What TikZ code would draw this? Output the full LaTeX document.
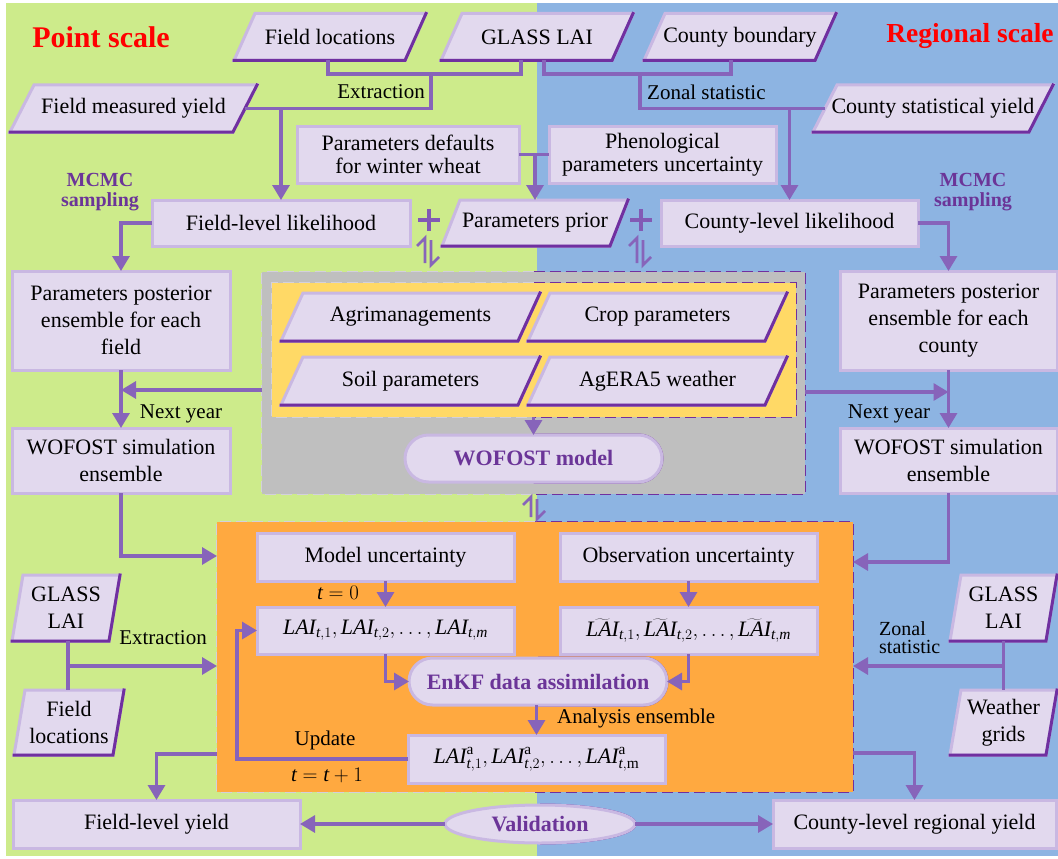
\documentclass[tikz,border=0pt]{standalone}
\usepackage{fontspec}
\setmainfont{Liberation Serif}
\usetikzlibrary{arrows.meta,shapes.geometric}
\definecolor{bggreen}{HTML}{CDEB8B}
\definecolor{bgblue}{HTML}{8DB4E2}
\definecolor{greybox}{HTML}{BFBFBF}
\definecolor{yelbox}{HTML}{FFD966}
\definecolor{orabox}{HTML}{FFA940}
\definecolor{boxfill}{HTML}{E2D9EE}
\definecolor{boxlight}{HTML}{C9B8E2}
\definecolor{boxdark}{HTML}{7030A0}
\definecolor{conncol}{HTML}{8764BA}
\definecolor{ptext}{HTML}{6B3598}
\definecolor{dashlight}{HTML}{D3D0DC}
\newcommand\ti{\mathit{t}}
\newcommand\pgram[7]{%
  \path[fill=boxfill, draw=boxlight, line width=3pt]
    ({#2-#4/2},{#3+#5/2}) -- ({#2+#4/2-#6},{#3+#5/2}) -- ({#2+#4/2},{#3-#5/2}) -- ({#2-#4/2+#6},{#3-#5/2}) -- cycle;
  \draw[boxdark, line width=3pt, line cap=rect] ({#2+#4/2},{#3-#5/2}) -- ({#2+#4/2-#6},{#3+#5/2}) -- ({#2-#4/2},{#3+#5/2});
  \node[base, minimum width={(#4-#6)*1pt}, minimum height={#5*1pt}] (#1) at (#2,#3) {#7};
}
\newcommand\harp[3]{%
  \draw[conncol, line width=2.8pt] (#1,{#2+#3-2}) -- (#1,#2) -- ({#1-8},{#2+8});
  \draw[conncol, line width=2.8pt] ({#1+6},{#2+2}) -- ({#1+6},{#2+#3}) -- ({#1+14},{#2+#3-8});
}
\newcommand\plussign[2]{%
  \draw[conncol!80!boxdark, line width=3.4pt] ({#1-11},#2) -- ({#1+11},#2) ({#1},{#2-11}) -- ({#1},{#2+11});
}
\begin{document}
\begin{tikzpicture}[x=1pt,y=-1pt,
  base/.style={font=\fontsize{22}{27}\selectfont, align=center, inner sep=0pt, outer sep=0pt, text=black},
  box/.style={base, rectangle, fill=boxfill, draw=boxlight, line width=3pt,
    append after command={\pgfextra{\draw[boxdark, line width=3pt, line cap=rect] (\tikzlastnode.north east) -- (\tikzlastnode.south east) -- (\tikzlastnode.south west);}}},
  pill/.style={base, rectangle, rounded corners=23.5pt, fill=boxfill, draw=boxlight, line width=3pt,
    font=\fontsize{22}{27}\selectfont\bfseries, text=ptext,
    append after command={\pgfextra{\draw[boxdark, line width=3pt] (\tikzlastnode.north) -- ([xshift=-23.5pt]\tikzlastnode.north east) arc[start angle=90, end angle=-90, radius=23.5pt] -- (\tikzlastnode.south);}}},
  val/.style={base, ellipse, fill=boxfill, draw=boxlight, line width=3pt,
    font=\fontsize{22}{27}\selectfont\bfseries, text=ptext,
    append after command={\pgfextra{\draw[boxdark, line width=3pt] (\tikzlastnode.north) arc[start angle=90, end angle=-90, x radius=95pt, y radius=19pt];}}},
  grpdash/.style={line width=2.2pt, dash pattern=on 11pt off 5pt},
  grp/.style={rectangle, inner sep=0pt, outer sep=0pt,
    append after command={\pgfextra{%
      \draw[dashlight, grpdash] (\tikzlastnode.north) -- (\tikzlastnode.north west) -- (\tikzlastnode.south west) -- (\tikzlastnode.south);
      \draw[boxdark, grpdash] (\tikzlastnode.north) -- (\tikzlastnode.north east) -- (\tikzlastnode.south east) -- (\tikzlastnode.south);}}},
  lab/.style={font=\fontsize{21}{24}\selectfont, inner sep=0pt, text=black},
  mcmc/.style={font=\fontsize{20}{20}\selectfont\bfseries, text=ptext, align=center, inner sep=0pt},
  title/.style={font=\fontsize{30}{31}\selectfont\bfseries, text=red, inner sep=0pt},
  conn/.style={draw=conncol, line width=3.2pt},
  arr/.style={conn, -{Triangle[length=15pt,width=17pt]}}
]
\useasboundingbox (0,0) rectangle (1058,859);
% backgrounds
\fill[bggreen] (6,3) rectangle (537,856);
\fill[bgblue] (537,3) rectangle (1058,856);

% group boxes
\node[grp, fill=greybox, minimum width=543pt, minimum height=222pt] (grey) at (533.5,383) {};
\node[grp, fill=yelbox, minimum width=524pt, minimum height=134pt] (yellow) at (534,350) {};
\node[grp, fill=orabox, minimum width=636pt, minimum height=270pt] (orange) at (535,657) {};

% titles
\node[title] (tps) at (101,37) {Point scale};
\node[title, font=\fontsize{27.5}{30}\selectfont\bfseries] (trs) at (970,36) {Regional scale};

% top parallelograms
\pgram{fl1}{330}{37}{192}{47}{21}{Field locations}
\pgram{glai}{537}{37}{192}{47}{21}{GLASS LAI}
\pgram{cb}{740}{37}{192}{47}{21}{County boundary}
\pgram{fmy}{133.5}{108.5}{247}{47}{24}{Field measured yield}
\pgram{csy}{933}{108.5}{240}{47}{24}{County statistical yield}
\pgram{pprior}{535}{223}{186}{46}{18}{Parameters prior}

% inputs
\pgram{agri}{410.5}{317}{259}{48}{22}{Agrimanagements}
\pgram{crop}{657.5}{317}{259}{48}{22}{Crop parameters}
\pgram{soil}{410.5}{381}{259}{48}{22}{Soil parameters}
\pgram{agera}{657.5}{381}{259}{48}{22}{AgERA5 weather}

% side parallelograms
\pgram{glai2}{66}{608}{108}{66}{11}{GLASS\\LAI}
\pgram{flocs2}{69}{722.5}{110}{65}{11}{Field\\locations}
\pgram{glai3}{1003.5}{608}{107}{66}{11}{GLASS\\LAI}
\pgram{wgrid}{1003.5}{722.5}{107}{65}{11}{Weather\\grids}

% rectangles
\node[box, minimum width=222pt, minimum height=57pt, font=\fontsize{22}{23}\selectfont] (pdef) at (408,154.5) {Parameters defaults\\for winter wheat};
\node[box, minimum width=227pt, minimum height=57pt, font=\fontsize{22}{23}\selectfont] (phen) at (662.5,154.5) {Phenological\\parameters uncertainty};
\node[box, minimum width=258pt, minimum height=46pt] (fll) at (281,223) {Field-level likelihood};
\node[box, minimum width=257pt, minimum height=46pt] (cll) at (789.5,223) {County-level likelihood};
\node[box, minimum width=218pt, minimum height=99pt] (ppf) at (121,320.5) {Parameters posterior\\ensemble for each\\field};
\node[box, minimum width=217pt, minimum height=99pt] (ppc) at (948.5,320.5) {Parameters posterior\\ensemble for each\\county};
\node[box, minimum width=218pt, minimum height=65pt] (wsf) at (121,460.5) {WOFOST simulation\\ensemble};
\node[box, minimum width=217pt, minimum height=65pt] (wsc) at (948.5,460.5) {WOFOST simulation\\ensemble};
\node[box, minimum width=257pt, minimum height=48pt] (mu) at (385.5,557) {Model uncertainty};
\node[box, minimum width=257pt, minimum height=48pt] (ou) at (688.5,557) {Observation uncertainty};
\node[box, minimum width=257pt, minimum height=47pt] (lai) at (385.5,630.5) {$\mathit{LAI}_{\ti,1},\mathit{LAI}_{\ti,2},\ldots,\mathit{LAI}_{\ti,\mathit{m}}$};
\node[box, minimum width=257pt, minimum height=47pt] (lait) at (688.5,630.5) {$\widetilde{\mathit{LAI}}_{\ti,1},\widetilde{\mathit{LAI}}_{\ti,2},\ldots,\widetilde{\mathit{LAI}}_{\ti,\mathit{m}}$};
\node[box, minimum width=257pt, minimum height=48pt] (laia) at (536.5,759) {$\mathit{LAI}^{\mathrm{a}}_{\ti,1},\mathit{LAI}^{\mathrm{a}}_{\ti,2},\ldots,\mathit{LAI}^{\mathrm{a}}_{\ti,\mathrm{m}}$};
\node[box, minimum width=287pt, minimum height=48pt] (fly) at (156.5,824) {Field-level yield};
\node[box, minimum width=283pt, minimum height=48pt] (cry) at (914.5,824) {County-level regional yield};

% pills and ellipse
\node[pill, minimum width=257pt, minimum height=47pt] (wofost) at (533.5,458.5) {WOFOST model};
\node[pill, minimum width=258pt, minimum height=47pt] (enkf) at (538,681.5) {EnKF data assimilation};
\node[val, minimum width=190pt, minimum height=38pt] (valid) at (540,824) {Validation};

% labels
\node[lab, anchor=east] (lext1) at (425,92) {Extraction};
\node[lab, anchor=west] (lzs1) at (647,92) {Zonal statistic};
\node[mcmc] (mcl) at (100,192) {MCMC\\sampling};
\node[mcmc] (mcr) at (973,192) {MCMC\\sampling};
\node[lab] (lny1) at (181,414) {Next year};
\node[lab] (lny2) at (889,414) {Next year};
\node[lab] (lt0) at (338,593) {$\ti=0$};
\node[lab, anchor=west] (lan) at (557,718) {Analysis ensemble};
\node[lab] (lupd) at (325,740) {Update};
\node[lab] (ltt) at (327,775) {$\ti=\ti+1$};
\node[lab] (lext2) at (163,638) {Extraction};
\node[lab, align=left, anchor=west, font=\fontsize{20}{18}\selectfont] (lzs2) at (879,638) {Zonal\\statistic};

% junction coordinates
\coordinate (jex) at (431,74);
\coordinate (jzs) at (640,74);
\coordinate (jl) at (68,666);
\coordinate (jr) at (1003.5,666);

% connectors top
\draw[conn] ([xshift=-2pt]fl1.south) |- (jex) -| ([xshift=-16pt]glai.south);
\draw[conn] (jex) |- (fmy.east);
\draw[arr] (fll.north |- fmy.east) -- (fll.north);
\draw[conn] ([xshift=7pt]glai.south) |- (jzs) -| ([xshift=-9pt]cb.south);
\draw[conn] (jzs) |- (csy.west);
\draw[arr] (cll.north |- csy.west) -- (cll.north);
\draw[conn] (pdef.east) -- (phen.west);
\draw[arr] (pprior.north |- pdef.east) -- (pprior.north);
\draw[arr] (fll.west) -| (ppf.north);
\draw[arr] (cll.east) -| (ppc.north);

% middle
\draw[arr] (ppf.south) -- (wsf.north);
\draw[arr] (ppc.south) -- (wsc.north);
\draw[arr] ([yshift=-7pt]grey.west) -- ([yshift=-7pt]grey.west -| ppf.south);
\draw[arr] ([yshift=-9pt]grey.east) -- ([yshift=-9pt]grey.east -| ppc.south);
\draw[arr] (wofost.north |- yellow.south) -- (wofost.north);
\draw[arr] (wsf.south) |- ([yshift=-34pt]orange.north west);
\draw[arr] (wsc.south) |- ([yshift=-40pt]orange.north east);

% EnKF
\draw[arr] (mu.south) -- (lai.north);
\draw[arr] (ou.south) -- (lait.north);
\draw[arr] (lai.south) |- (enkf.west);
\draw[arr] (lait.south) |- (enkf.east);
\draw[arr] (laia.north |- enkf.south) -- (laia.north);
\draw[arr] (laia.west) -- ++(-171,0) |- (lai.west);

% side inputs
\draw[conn] ([xshift=2pt]glai2.south) -- ([xshift=-1pt]flocs2.north);
\draw[arr] (jl) -- (jl -| orange.west);
\draw[conn] (glai3.south) -- (wgrid.north);
\draw[arr] (jr) -- (jr -| orange.east);

% outputs
\draw[arr] ([yshift=38pt]orange.south west) -| (fly.north);
\draw[arr] ([yshift=39pt]orange.south east) -| (cry.north);
\draw[arr] (valid.west) -- (fly.east);
\draw[arr] (valid.east) -- (cry.west);

% plus signs and harpoons
\plussign{429}{220}
\plussign{641}{220}
\harp{425}{238}{27}
\harp{637}{238}{27}
\harp{531}{497}{22}
\end{tikzpicture}
\end{document}
